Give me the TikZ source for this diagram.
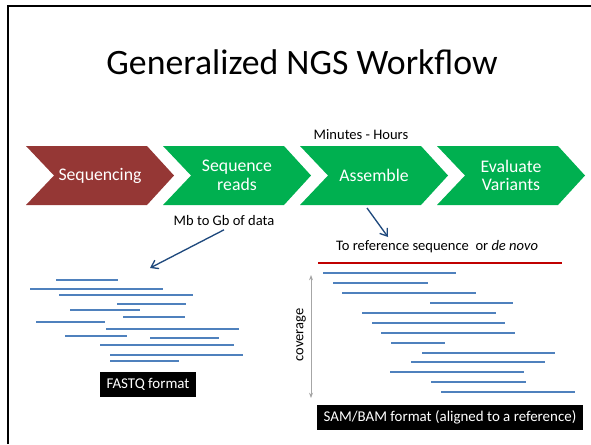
\documentclass[tikz,border=0pt]{standalone}
\usepackage{fontspec}
\setmainfont{Carlito}
\usepackage{xcolor}
\usetikzlibrary{arrows.meta, positioning}

\definecolor{seqred}{HTML}{953735}
\definecolor{stepgreen}{HTML}{00B050}
\definecolor{readblue}{HTML}{4F81BD}
\definecolor{arrowblue}{HTML}{1F497D}
\definecolor{refred}{HTML}{C00000}
\definecolor{covgray}{HTML}{A6A6A6}

\tikzset{
    steplabel/.style={text=white, align=center, font=\fontsize{13.3}{14}\selectfont},
    note/.style={font=\fontsize{10.9}{12}\selectfont},
    readline/.style={draw=readblue, line width=1.5pt},
    pointer/.style={draw=arrowblue, line width=1pt, -{Straight Barb[length=5pt, width=7pt]}},
    fmtbox/.style={fill=black, text=white, inner sep=0pt, minimum height=18.75pt,
        font=\fontsize{11.2}{12}\selectfont}
}

\begin{document}
\begin{tikzpicture}[x=0.75pt, y=-0.75pt]
    \useasboundingbox (0,0) rectangle (591,444);

    % Khung slide (chỉ cạnh trên và cạnh trái)
    \draw[line width=1.5pt] (8,444) -- (8,6) -- (591,6);

    % Tiêu đề
    \node[font=\fontsize{26.8}{32}\selectfont] (title) at (302,62) {Generalized NGS Workflow};

    % Các bước của quy trình (mũi tên chevron)
    \foreach \name/\col/\txt [count=\i from 0] in
        {seq/seqred/Sequencing, reads/stepgreen/{Sequence\\reads},
         assemble/stepgreen/Assemble, evaluate/stepgreen/{Evaluate\\Variants}}
    {
        \pgfmathsetmacro{\xa}{26+137*\i}
        \fill[\col] (\xa,146) -- ++(121,0) -- ++(27,29.5) -- ++(-27,29.5)
            -- ++(-121,0) -- ++(28,-29.5) -- cycle;
        \node[steplabel] (\name) at (\xa+74,175.5) {\txt};
    }

    % Ghi chú
    \node[note] (minutes) at (361,135) {Minutes - Hours};
    \node[note] (mbdata) at (224,220) {Mb to Gb of data};
    \node[note] (toref) at (437,247) {To reference sequence\ \ or \textit{de novo}};

    % Mũi tên chỉ dẫn
    \coordinate (rawreads) at (150,268);
    \coordinate (asmfoot) at (367,208);
    \coordinate (asmtip) at (388,237);
    \draw[pointer] (mbdata.south) -- (rawreads);
    \draw[pointer] (asmfoot) -- (asmtip);

    % Các read chưa sắp xếp (FASTQ)
    \foreach \a/\b/\y in {56/118/280, 30/163/289, 59/193/295, 117/186/304,
        70/140/310, 123/185/317, 36/105/322, 106/239/329, 65/127/336,
        150/219/338, 100/234/345, 110/243/355, 110/179/361}
        \draw[readline] (\a,\y) -- (\b,\y);

    % Trình tự tham chiếu và các read đã sắp xếp
    \draw[draw=refred, line width=1.5pt] (318,263) -- (562,263);
    \foreach \a/\b/\y in {323/456/273, 333/428/283, 342/476/293, 430/513/303,
        362/496/313, 372/505/323, 381/515/333, 391/445/343, 422/555/353,
        411/545/362, 390/524/372, 431/526/382, 441/575/392}
        \draw[readline] (\a,\y) -- (\b,\y);

    % Độ phủ
    \coordinate (covtop) at (311,275);
    \coordinate (covbot) at (311,398);
    \draw[draw=covgray, line width=0.6pt, {Stealth[length=4pt, width=3pt]}-{Stealth[length=4pt, width=3pt]}]
        (covtop) -- (covbot);
    \node[note, rotate=90] (coverage) at (301,335) {coverage};

    % Định dạng tệp
    \node[fmtbox, minimum width=72pt] (fastq) at (148,384.5) {FASTQ format};
    \node[fmtbox, minimum width=199.5pt] (sambam) at (450,417.5) {SAM/BAM format (aligned to a reference)};
\end{tikzpicture}
\end{document}
